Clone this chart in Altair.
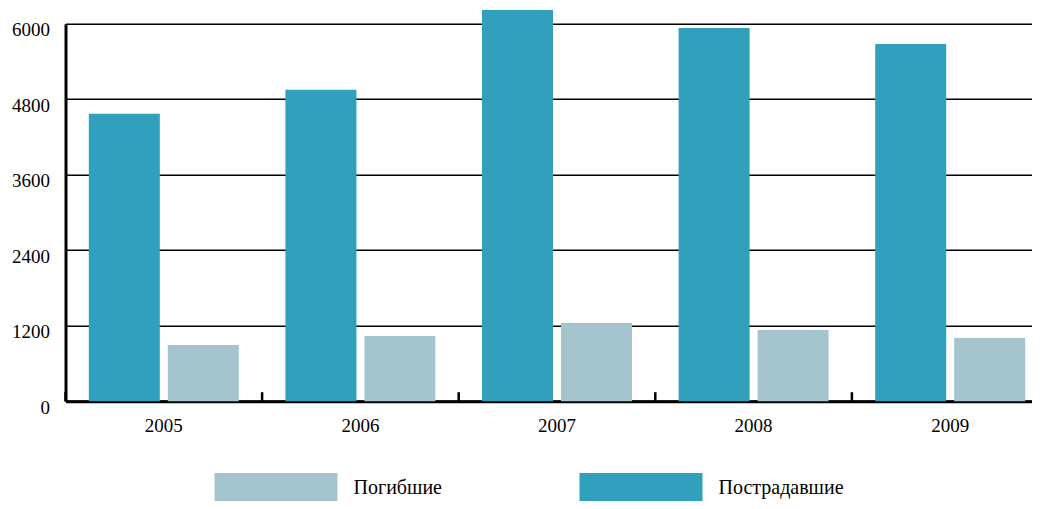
import altair as alt
import pandas as pd

years = ["2005", "2006", "2007", "2008", "2009"]
injured = [4570, 4950, 6220, 5935, 5680]
killed = [895, 1035, 1245, 1130, 1005]
series = ["Погибшие", "Пострадавшие"]
colors = ["#A4C5CE", "#31A0BD"]
y_ticks = [0, 1200, 2400, 3600, 4800, 6000]

rows = []
for i, yr in enumerate(years):
    rows.append({"year": yr, "series": "Пострадавшие", "value": injured[i]})
    rows.append({"year": yr, "series": "Погибшие", "value": killed[i]})
df = pd.DataFrame(rows)
ticks_df = pd.DataFrame({"year": years})

W = 966.5
H = 377.4
FONT = "Liberation Serif"

xscale = alt.Scale(domain=years, range=[0, 983], paddingInner=0, paddingOuter=0)

bars = alt.Chart(df).mark_bar(clip=False).encode(
    x=alt.X("year:N", scale=xscale,
            axis=alt.Axis(title=None, labelAngle=0, ticks=False, domainColor="black",
                          domainWidth=3, labelFontSize=19, labelFont=FONT,
                          labelColor="black", labelPadding=15.5, grid=False)),
    xOffset=alt.XOffset("series:N", sort=["Пострадавшие", "Погибшие"],
                        scale=alt.Scale(paddingInner=0.101, paddingOuter=0.295)),
    y=alt.Y("value:Q",
            scale=alt.Scale(domain=[0, 6000], nice=False),
            axis=alt.Axis(title=None, values=y_ticks, format="d", grid=True,
                          gridColor="black", gridWidth=1.5, gridOpacity=1, ticks=False,
                          domainColor="black", domainWidth=3, labelFontSize=19,
                          labelFont=FONT, labelColor="black", labelPadding=16,
                          labelOffset=6, labelFlush=False)),
    color=alt.Color("series:N", scale=alt.Scale(domain=series, range=colors),
                    legend=alt.Legend(title=None, orient="none", direction="horizontal",
                                      legendX=149, legendY=403,
                                      symbolType="M-1,-0.25H1V0.25H-1Z",
                                      symbolSize=15129, symbolStrokeWidth=0,
                                      symbolOpacity=1,
                                      labelFontSize=20, labelFont=FONT, labelColor="black",
                                      labelOffset=16, columnPadding=137, labelLimit=300)),
)

tick_marks = alt.Chart(ticks_df).mark_rule(color="black", strokeWidth=2.5).encode(
    x=alt.X("year:N", bandPosition=0, scale=xscale),
    y=alt.value(H - 9),
    y2=alt.value(H),
)

chart = alt.layer(bars, tick_marks).properties(
    width=W, height=H,
    autosize=alt.AutoSizeParams(type="none"),
    padding={"left": 57.5, "top": 15.8, "right": 0, "bottom": 100},
).configure_view(stroke=None)

chart.save("out.html", embed_options={"renderer": "svg", "actions": False})
